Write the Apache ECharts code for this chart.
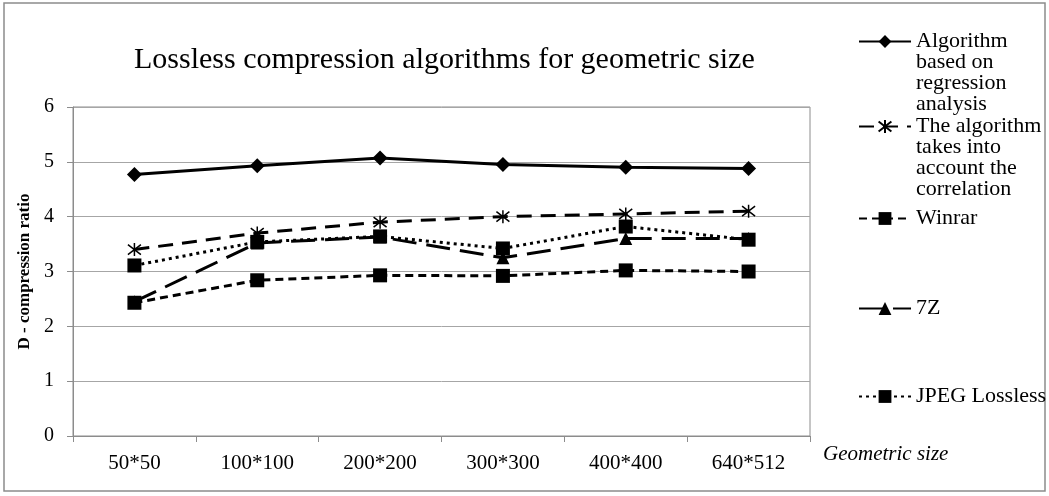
<!DOCTYPE html>
<html>
<head>
<meta charset="utf-8">
<script src="https://cdn.jsdelivr.net/npm/echarts@6/dist/echarts.min.js"></script>
<style>
    html, body { margin: 0; padding: 0; background: #fff; }
    #chart { width: 1049px; height: 496px; }
</style>
</head>
<body>
<div id="chart"></div>
<script>
    // data
    const sizes = ['50*50', '100*100', '200*200', '300*300', '400*400', '640*512']
    const regression = [4.77, 4.93, 5.07, 4.95, 4.90, 4.88]
    const correlation = [3.40, 3.70, 3.90, 4.00, 4.05, 4.10]
    const winrar = [2.43, 2.84, 2.93, 2.92, 3.02, 3.00]
    const sevenZ = [2.45, 3.52, 3.63, 3.25, 3.60, 3.60]
    const jpegLossless = [3.11, 3.54, 3.64, 3.42, 3.82, 3.58]
    const yTicks = [0, 1, 2, 3, 4, 5, 6]

    const names = [
        'Algorithm based on regression analysis',
        'The algorithm takes into account the correlation',
        'Winrar',
        '7Z',
        'JPEG Lossless'
    ]
    // legend labels wrap like the original; the empty leading lines keep
    // the first line level with the icon (legend text is centred on it)
    const legendText = {
        'Algorithm based on regression analysis': '\n\n\nAlgorithm\nbased on\nregression\nanalysis',
        'The algorithm takes into account the correlation': '\n\n\nThe algorithm\ntakes into\naccount the\ncorrelation',
        'Winrar': 'Winrar',
        '7Z': '7Z',
        'JPEG Lossless': 'JPEG Lossless'
    }

    const serif = '"Liberation Serif", "DejaVu Serif", serif'
    const asterisk = 'path://M0,0L10,10M10,0L0,10M5,-1.5L5,11.5'

    const chart = echarts.init(document.getElementById('chart'))

    function legendAt (name, iconY, lines) {
        const lh = 21
        const h = lines > 1 ? (lines * 2 - 1) * lh : lh
        return {
            data: [name],
            orient: 'vertical',
            left: 858,
            top: iconY - h / 2,
            padding: 0,
            itemWidth: 52,
            itemHeight: 16,
            itemGap: 0,
            selectedMode: false,
            formatter: n => legendText[n],
            textStyle: {
                fontFamily: serif,
                fontSize: 22,
                color: '#000',
                lineHeight: lh
            }
        }
    }

    chart.setOption({
        animation: false,
        backgroundColor: '#fff',
        title: {
            text: 'Lossless compression algorithms for geometric size',
            left: 129,
            top: 40,
            textStyle: {
                fontFamily: serif,
                fontSize: 30,
                fontWeight: 'normal',
                color: '#000'
            }
        },
        graphic: [{
            type: 'rect',
            shape: { x: 4, y: 3, width: 1041, height: 488 },
            style: { fill: 'none', stroke: '#8c8c8c', lineWidth: 1.5 },
            silent: true
        }],
        legend: [
            legendAt(names[0], 41, 4),
            legendAt(names[1], 126, 4),
            legendAt(names[2], 218, 1),
            legendAt(names[3], 308, 1),
            legendAt(names[4], 396, 1)
        ],
        grid: {
            left: 73,
            right: 239,
            top: 107,
            bottom: 60,
            show: true,
            borderColor: '#8c8c8c',
            borderWidth: 1
        },
        xAxis: {
            type: 'category',
            data: sizes,
            boundaryGap: true,
            name: 'Geometric size',
            nameLocation: 'end',
            nameGap: 13,
            nameTextStyle: {
                fontFamily: serif,
                fontSize: 21,
                fontStyle: 'italic',
                color: '#000',
                verticalAlign: 'top',
                padding: [8, 0, 0, 0]
            },
            axisLine: { lineStyle: { color: '#8c8c8c', width: 1 } },
            axisTick: { show: true, length: 6, lineStyle: { color: '#8c8c8c' } },
            axisLabel: {
                fontFamily: serif,
                fontSize: 21,
                color: '#000',
                margin: 17
            }
        },
        yAxis: {
            type: 'value',
            min: yTicks[0],
            max: yTicks[yTicks.length - 1],
            interval: 1,
            name: 'D - compression ratio',
            nameLocation: 'middle',
            nameGap: 36,
            nameTextStyle: {
                fontFamily: serif,
                fontSize: 17,
                fontWeight: 'bold',
                color: '#000'
            },
            axisLine: { show: true, lineStyle: { color: '#8c8c8c', width: 1 } },
            axisTick: { show: true, length: 6, lineStyle: { color: '#8c8c8c' } },
            axisLabel: {
                fontFamily: serif,
                fontSize: 20,
                color: '#000',
                margin: 19
            },
            splitLine: { lineStyle: { color: '#a6a6a6', width: 1 } }
        },
        series: [
            {
                name: names[0],
                type: 'line',
                data: regression,
                symbol: 'diamond',
                symbolSize: 15,
                itemStyle: { color: '#000' },
                lineStyle: { color: '#000', width: 3 }
            }, {
                name: names[1],
                type: 'line',
                data: correlation,
                symbol: asterisk,
                symbolSize: 13,
                itemStyle: { color: 'rgba(0,0,0,0)', borderColor: '#000', borderWidth: 1.5 },
                lineStyle: { color: '#000', width: 3, type: [15, 9] }
            }, {
                name: names[2],
                type: 'line',
                data: winrar,
                symbol: 'rect',
                symbolSize: 14,
                itemStyle: { color: '#000' },
                lineStyle: { color: '#000', width: 3, type: [8, 5] }
            }, {
                name: names[3],
                type: 'line',
                data: sevenZ,
                symbol: 'triangle',
                symbolSize: 13,
                itemStyle: { color: '#000' },
                lineStyle: { color: '#000', width: 3, type: [24, 10] }
            }, {
                name: names[4],
                type: 'line',
                data: jpegLossless,
                symbol: 'rect',
                symbolSize: 14,
                itemStyle: { color: '#000' },
                lineStyle: { color: '#000', width: 3, type: [3, 4] }
            }
        ]
    })
</script>
</body>
</html>
